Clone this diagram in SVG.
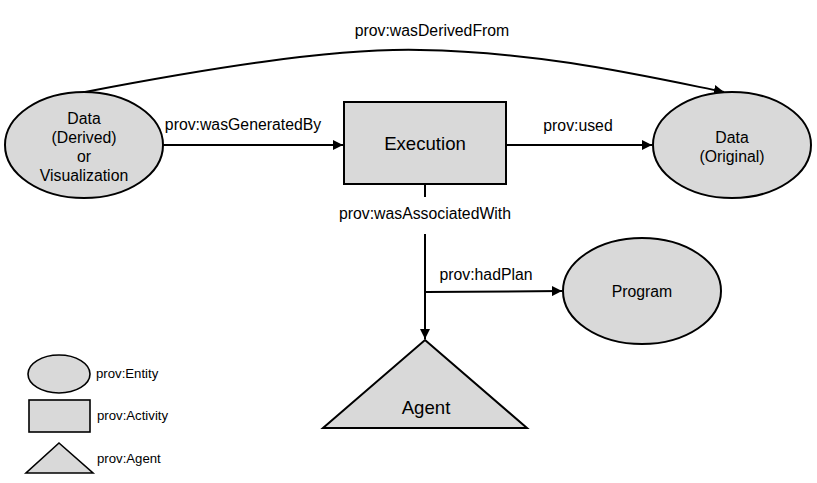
<svg xmlns="http://www.w3.org/2000/svg" width="817" height="483" viewBox="0 0 817 483">
<style>
.shape{fill:#d9d9d9;stroke:#000;stroke-width:2}
.lshape{fill:#d9d9d9;stroke:#000;stroke-width:1.6}
.edge{fill:none;stroke:#000;stroke-width:2}
text{font-family:"Liberation Sans",Arial,sans-serif;fill:#000}
.lbl{font-size:15.8px;text-anchor:middle}
.node{font-size:15.8px;text-anchor:middle}
.big{font-size:18.6px;text-anchor:middle}
.leg{font-size:13.2px}
</style>
<defs>
<marker id="arr" viewBox="0 0 10 10" refX="10" refY="5" markerWidth="10" markerHeight="10" markerUnits="userSpaceOnUse" orient="auto">
<path d="M0,0 L10,5 L0,10 z" fill="#000"/>
</marker>
</defs>
<rect width="817" height="483" fill="#fff"/>
<g id="connectors">
<path class="edge" d="M85,92 C200,70 330,48 420,50 C540,52 640,75 724,92" marker-end="url(#arr)"/>
<path class="edge" d="M163,145 L343,145" marker-end="url(#arr)"/>
<path class="edge" d="M506,145 L652,145" marker-end="url(#arr)"/>
<path class="edge" d="M425,184 L425,197"/>
<path class="edge" d="M425,234 L425,339" marker-end="url(#arr)"/>
<path class="edge" d="M426,292 L562,291" marker-end="url(#arr)"/>
<text class="lbl" x="432" y="36">prov:wasDerivedFrom</text>
<text class="lbl" x="243" y="130">prov:wasGeneratedBy</text>
<text class="lbl" x="578" y="131">prov:used</text>
<text class="lbl" x="425" y="219">prov:wasAssociatedWith</text>
<text class="lbl" x="486" y="280">prov:hadPlan</text>
</g>
<g id="derived">
<ellipse class="shape" cx="84" cy="145" rx="79" ry="53"/>
<text class="node" x="84" y="124">Data</text>
<text class="node" x="84" y="143">(Derived)</text>
<text class="node" x="84" y="162">or</text>
<text class="node" x="84" y="181">Visualization</text>
</g>
<g id="execution">
<rect class="shape" x="344" y="102" width="162" height="82"/>
<text class="big" x="425" y="150">Execution</text>
</g>
<g id="original">
<ellipse class="shape" cx="732" cy="145" rx="79" ry="53"/>
<text class="node" x="732" y="143">Data</text>
<text class="node" x="732" y="162">(Original)</text>
</g>
<g id="program">
<ellipse class="shape" cx="642" cy="291" rx="79" ry="53"/>
<text class="node" x="642" y="297">Program</text>
</g>
<g id="agent">
<polygon class="shape" points="425,340 527,428 323,428"/>
<text class="big" x="426" y="414">Agent</text>
</g>
<g id="legend">
<ellipse class="lshape" cx="59" cy="374" rx="31" ry="19"/>
<text class="leg" x="96" y="378">prov:Entity</text>
<rect class="lshape" x="29" y="400" width="61" height="32"/>
<text class="leg" x="97" y="420">prov:Activity</text>
<polygon class="lshape" points="59,443 93,473 26,473"/>
<text class="leg" x="97" y="463">prov:Agent</text>
</g>
</svg>
